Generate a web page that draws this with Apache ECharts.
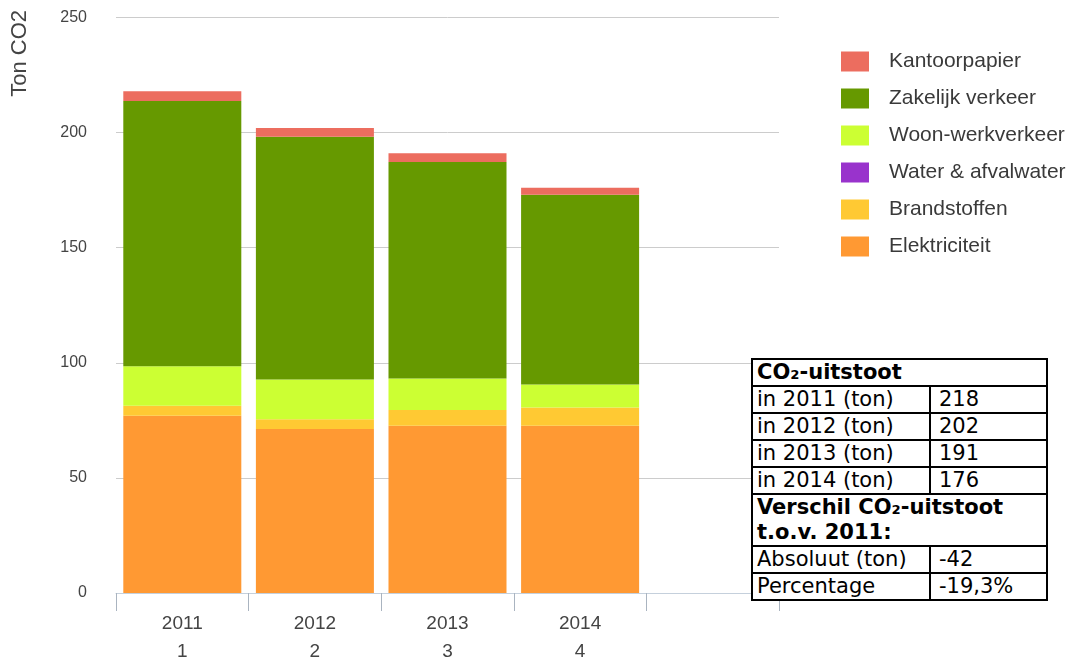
<!DOCTYPE html>
<html>
<head>
<meta charset="utf-8">
<script src="https://cdn.jsdelivr.net/npm/echarts@6/dist/echarts.min.js"></script>
<style>
  html, body { margin: 0; padding: 0; background: #fff; }
  #wrap { position: relative; width: 1086px; height: 666px; }
  #chart { position: absolute; left: 0; top: 0; width: 1086px; height: 666px; }
  #tbl {
    position: absolute; left: 751px; top: 358px; width: 297px;
    border-collapse: collapse; background: #fff; table-layout: fixed;
    font-family: "DejaVu Sans", Verdana, sans-serif; font-size: 21px; color: #000;
  }
  #tbl td { border: 2px solid #000; padding: 0 0 0 4px; line-height: 25px; white-space: nowrap; overflow: hidden; }
  #tbl td.c2 { padding-left: 8px; }
  #tbl td.b { font-weight: bold; }
</style>
</head>
<body>
<div id="wrap">
  <div id="chart"></div>
  <table id="tbl"></table>
</div>
<script>
// ---- data ----
const years = ['2011', '2012', '2013', '2014'];
const yearIndex = ['1', '2', '3', '4'];
const seriesNames = ['Elektriciteit', 'Brandstoffen', 'Water & afvalwater', 'Woon-werkverkeer', 'Zakelijk verkeer', 'Kantoorpapier'];
const elektriciteit = [77, 71.2, 72.6, 72.6];
const brandstoffen = [4.3, 4.3, 6.9, 8.0];
const water = [0, 0, 0, 0];
const woonWerk = [17.2, 17.2, 13.7, 10.0];
const zakelijk = [115.2, 105.5, 94.0, 82.4];
const kantoorpapier = [4.3, 3.8, 3.8, 3.0];
const legendOrder = ['Kantoorpapier', 'Zakelijk verkeer', 'Woon-werkverkeer', 'Water & afvalwater', 'Brandstoffen', 'Elektriciteit'];
const yTicks = [0, 50, 100, 150, 200, 250];
const totalsLabel = ['in 2011 (ton)', 'in 2012 (ton)', 'in 2013 (ton)', 'in 2014 (ton)'];
const totals = ['218', '202', '191', '176'];
const diffLabels = ['Absoluut (ton)', 'Percentage'];
const diffValues = ['-42', '-19,3%'];

const colors = {
  'Elektriciteit': '#ff9933',
  'Brandstoffen': '#ffc933',
  'Water & afvalwater': '#9933cc',
  'Woon-werkverkeer': '#ccff33',
  'Zakelijk verkeer': '#669900',
  'Kantoorpapier': '#ec6d5f'
};
const seriesData = [elektriciteit, brandstoffen, water, woonWerk, zakelijk, kantoorpapier];

// ---- table ----
let html = '<tr><td class="b" colspan="2">CO\u2082-uitstoot</td></tr>';
totalsLabel.forEach((l, i) => { html += '<tr><td>' + l + '</td><td class="c2">' + totals[i] + '</td></tr>'; });
html += '<tr><td class="b" colspan="2">Verschil CO\u2082-uitstoot<br>t.o.v. 2011:</td></tr>';
diffLabels.forEach((l, i) => { html += '<tr><td>' + l + '</td><td class="c2">' + diffValues[i] + '</td></tr>'; });
document.getElementById('tbl').innerHTML = '<colgroup><col style="width:178px"><col></colgroup>' + html;

// ---- chart ----
const cats = years.map((y, i) => y + '\n' + yearIndex[i]).concat(['']);
const chart = echarts.init(document.getElementById('chart'), null, { renderer: 'canvas' });
const font = 'Liberation Sans, Arial, sans-serif';
chart.setOption({
  animation: false,
  backgroundColor: '#fff',
  textStyle: { fontFamily: font },
  grid: { left: 116, right: 307, top: 17.5, bottom: 67, containLabel: false },
  legend: {
    data: legendOrder,
    orient: 'vertical',
    left: 836, top: 46,
    icon: 'rect',
    itemWidth: 28, itemHeight: 20, itemGap: 16,
    textStyle: { fontSize: 21, color: '#3a3a3a', padding: [0, 0, 0, 15] }
  },
  graphic: [{
    type: 'text', left: 9, top: 10, rotation: Math.PI / 2,
    style: { text: 'Ton CO2', fontSize: 22, fill: '#444', fontFamily: font }
  }],
  xAxis: {
    type: 'category', data: cats,
    axisLine: { show: true, lineStyle: { color: '#c5d0dc', width: 1 } },
    axisTick: { show: true, length: 18, lineStyle: { color: '#aab4c0' } },
    axisLabel: { fontSize: 19, color: '#444', lineHeight: 28, margin: 17, interval: 0 }
  },
  yAxis: {
    type: 'value', min: yTicks[0], max: yTicks[yTicks.length - 1], interval: 50,
    axisLine: { show: false }, axisTick: { show: false },
    axisLabel: { fontSize: 16, color: '#444', margin: 29 },
    splitLine: { lineStyle: { color: '#cccccc', width: 1 } }
  },
  series: seriesNames.map((n, i) => ({
    name: n, type: 'bar', stack: 'total', data: seriesData[i],
    barCategoryGap: '11%',
    itemStyle: { color: colors[n] }
  }))
});
</script>
</body>
</html>
